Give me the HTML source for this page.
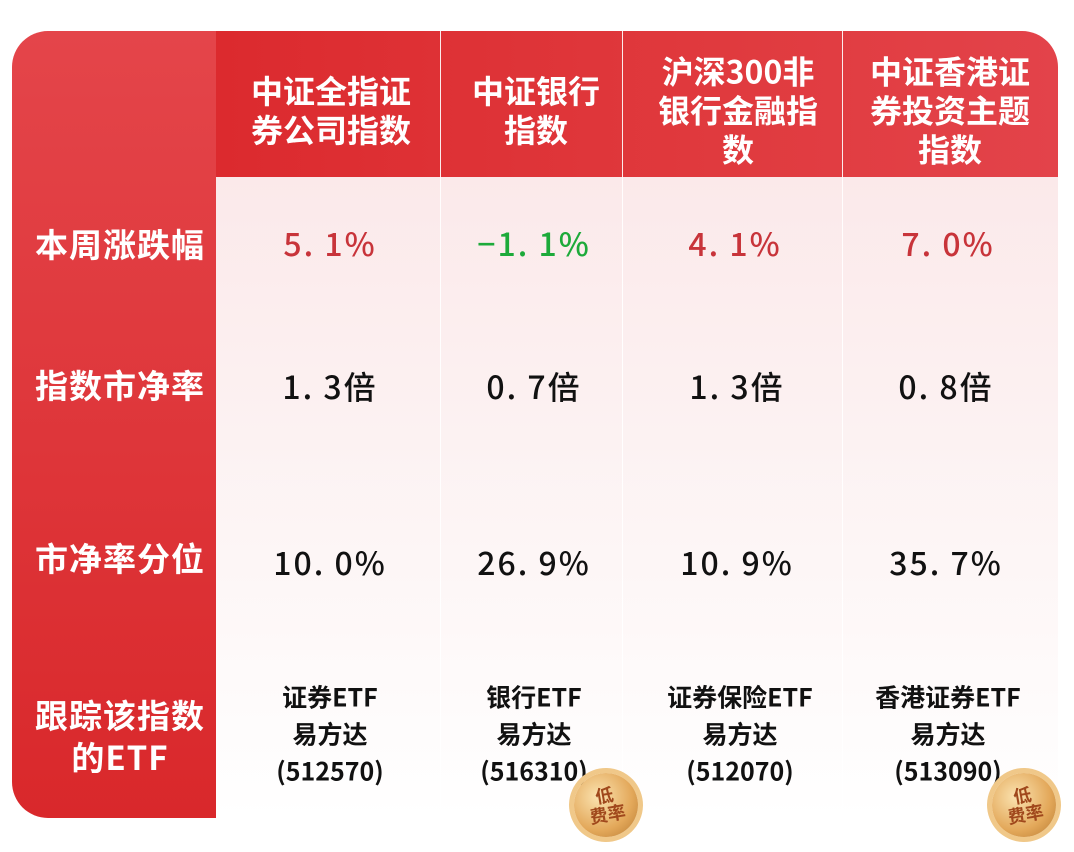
<!DOCTYPE html>
<html><head><meta charset="utf-8"><style>
body{margin:0;width:1074px;height:852px;background:#fff;position:relative;overflow:hidden;font-family:"Liberation Sans","Noto Sans CJK SC",sans-serif;}
.left{position:absolute;left:12px;top:31px;width:204px;height:787px;background:linear-gradient(#e4454a,#d9282b);border-radius:36px 0 0 36px;}
.hdr{position:absolute;left:216px;top:31px;width:842px;height:146px;background:linear-gradient(90deg,#dc2a2e,#e03a3e 60%,#e3434a);border-radius:0 36px 0 0;}
.data{position:absolute;left:216px;top:177px;width:842px;height:641px;background:linear-gradient(#fbe9ea,#fdf6f6 60%,#ffffff);}
.vl{position:absolute;width:1px;background:#fff;top:31px;height:787px;opacity:.9}
.t{position:absolute;text-align:center;transform:translate(-50%,-50%);white-space:nowrap;font-family:"Noto Sans CJK SC",sans-serif;}
.h{color:#fff;font-size:32px;font-weight:bold;line-height:39px;}
.l{color:#fff;font-size:33px;font-weight:bold;letter-spacing:1px;line-height:42px;}
.v{font-size:32px;color:#111;letter-spacing:2px;font-weight:500;}
.r{color:#c8343a}.g{color:#1daa3a}
.e{font-size:25px;font-weight:bold;color:#111;line-height:37px;}
.seal{position:absolute;width:64px;height:64px;border-radius:50%;background:radial-gradient(circle at 40% 35%,#fbe3b0,#e3a85a 60%,#b87a30);box-shadow:0 0 0 5px #f0c889;color:#a0481c;font-weight:bold;font-size:18px;line-height:19px;text-align:center;font-family:"Noto Sans CJK SC",sans-serif;display:flex;align-items:center;justify-content:center;transform:rotate(-10deg)}
</style></head><body>
<div class="left"></div><div class="hdr"></div><div class="data"></div>
<div class="vl" style="left:440px"></div><div class="vl" style="left:622px"></div><div class="vl" style="left:842px"></div>
<div class="t h" style="left:331px;top:110px">中证全指证<br>券公司指数</div>
<div class="t h" style="left:536px;top:110px">中证银行<br>指数</div>
<div class="t h" style="left:738px;top:110px">沪深300非<br>银行金融指<br>数</div>
<div class="t h" style="left:950px;top:110px">中证香港证<br>券投资主题<br>指数</div>
<div class="t l" style="left:120px;top:243px">本周涨跌幅</div>
<div class="t l" style="left:120px;top:384px">指数市净率</div>
<div class="t l" style="left:120px;top:557px">市净率分位</div>
<div class="t l" style="left:120px;top:735px">跟踪该指数<br>的ETF</div>
<div class="t v r" style="left:330px;top:243px">5. 1%</div>
<div class="t v g" style="left:534px;top:243px">−1. 1%</div>
<div class="t v r" style="left:735px;top:243px">4. 1%</div>
<div class="t v r" style="left:948px;top:243px">7. 0%</div>
<div class="t v" style="left:330px;top:386px">1. 3倍</div>
<div class="t v" style="left:534px;top:386px">0. 7倍</div>
<div class="t v" style="left:737px;top:386px">1. 3倍</div>
<div class="t v" style="left:946px;top:386px">0. 8倍</div>
<div class="t v" style="left:330px;top:562px">10. 0%</div>
<div class="t v" style="left:534px;top:562px">26. 9%</div>
<div class="t v" style="left:737px;top:562px">10. 9%</div>
<div class="t v" style="left:946px;top:562px">35. 7%</div>
<div class="t e" style="left:330px;top:734px">证券ETF<br>易方达<br>(512570)</div>
<div class="t e" style="left:534px;top:734px">银行ETF<br>易方达<br>(516310)</div>
<div class="t e" style="left:740px;top:734px">证券保险ETF<br>易方达<br>(512070)</div>
<div class="t e" style="left:948px;top:734px">香港证券ETF<br>易方达<br>(513090)</div>
<div class="seal" style="left:574px;top:773px">低<br>费率</div>
<div class="seal" style="left:992px;top:773px">低<br>费率</div>
</body></html>
